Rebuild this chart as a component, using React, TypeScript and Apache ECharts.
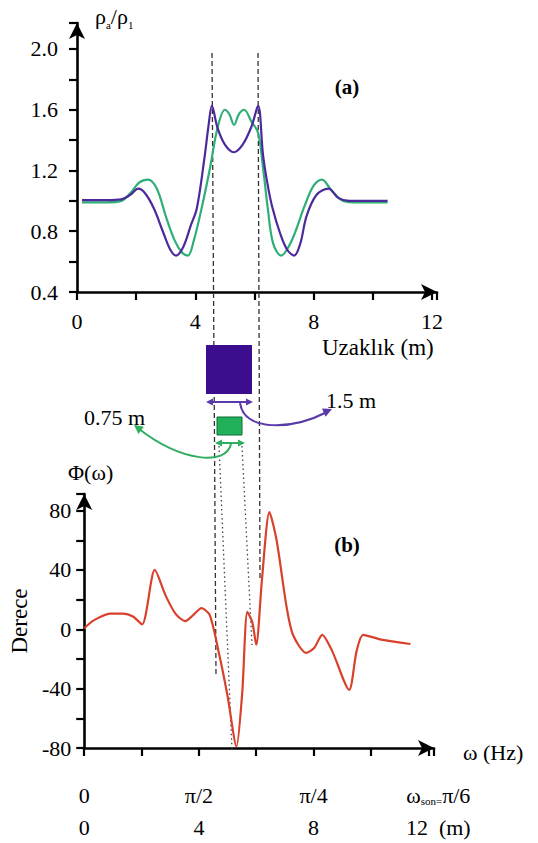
import React, { useEffect, useRef } from 'react';
import * as echarts from 'echarts';

const FONT = 'Liberation Serif, Times New Roman, serif';

// (a) apparent resistivity ratio vs distance (m)
const purpleCurve: [number, number][] = [
  [0.17, 1.005], [1.0, 1.005], [1.5, 1.01], [1.8, 1.04], [2.07, 1.08], [2.3, 1.05],
  [2.6, 0.95], [2.9, 0.8], [3.15, 0.68], [3.35, 0.64], [3.6, 0.7], [3.85, 0.84],
  [4.05, 0.95], [4.3, 1.27], [4.45, 1.5], [4.56, 1.625], [4.75, 1.48], [5.0, 1.37],
  [5.3, 1.32], [5.6, 1.37], [5.9, 1.49], [6.12, 1.625], [6.29, 1.3], [6.45, 1.1],
  [6.6, 0.96], [6.86, 0.79], [7.1, 0.68], [7.34, 0.64], [7.55, 0.72], [7.76, 0.9],
  [8.1, 1.04], [8.5, 1.08], [8.83, 1.02], [9.2, 1.0], [10.5, 1.0],
];
const greenCurve: [number, number][] = [
  [0.17, 0.99], [1.0, 0.99], [1.5, 1.0], [1.8, 1.05], [2.1, 1.12], [2.4, 1.14],
  [2.7, 1.08], [3.0, 0.9], [3.3, 0.74], [3.55, 0.66], [3.75, 0.64], [3.95, 0.74],
  [4.2, 0.94], [4.5, 1.22], [4.75, 1.48], [5.0, 1.6], [5.15, 1.57], [5.31, 1.5],
  [5.47, 1.57], [5.65, 1.6], [5.9, 1.52], [6.12, 1.45], [6.3, 1.2], [6.45, 0.95],
  [6.63, 0.72], [6.9, 0.64], [7.1, 0.68], [7.35, 0.78], [7.7, 0.97], [8.0, 1.1],
  [8.28, 1.14], [8.6, 1.07], [9.0, 1.0], [9.5, 0.99], [10.5, 0.99],
];

// (b) phase (degrees) vs omega / distance
const phaseCurve: [number, number][] = [
  [0, 0.7], [0.33, 6], [0.9, 10.6], [1.36, 10.6], [1.7, 8.6], [2.02, 3.3],
  [2.46, 40], [2.84, 22.7], [3.18, 10.6], [3.52, 5.5], [3.8, 9.5], [4.09, 14.3],
  [4.38, 9.5], [4.72, -18], [5.0, -45], [5.31, -79], [5.51, -43], [5.69, 11.7],
  [5.86, 5], [6.0, -10.4], [6.2, 33.7], [6.46, 79], [6.71, 60], [7.05, 16],
  [7.28, -3.7], [7.74, -15.9], [8.02, -12.6], [8.3, -3.7], [8.65, -14.7],
  [9.24, -40.8], [9.5, -14.7], [9.73, -3.7], [10.36, -7], [11.38, -9.9],
];

const topXTickStep = 2;
const topXLabelValues = [0, 4, 8, 12];
const topYTickStep = 0.2;
const topYLabelValues = [0.4, 0.8, 1.2, 1.6, 2.0];
const bottomXTickStep = 2;
const bottomXLabelValues = [0, 4, 8, 12];
const omegaLabels = ['0', 'π/2', 'π/4', 'π/6'];
const metreLabels = ['0', '4', '8', '12  (m)'];
const bottomYTickStep = 20;
const bottomYLabelValues = [-80, -40, 0, 40, 80];

const PURPLE = '#4b2a9c';
const GREEN = '#2fae78';
const RED = '#d8412c';

const axisLine = {
  show: true,
  onZero: false,
  symbol: ['none', 'arrow'],
  symbolSize: [12, 16],
  lineStyle: { color: '#000', width: 2.6 },
};

const near = (list: number[], v: number) => list.findIndex((l) => Math.abs(l - v) < 1e-6);

export default function App() {
  const ref = useRef<HTMLDivElement>(null);
  useEffect(() => {
    if (!ref.current) return;
    const chart = echarts.init(ref.current, undefined, { renderer: 'svg' });
    const tick = { show: true, length: 8, lineStyle: { color: '#000', width: 2.2 } };
    const option: any = {
      animation: false,
      backgroundColor: '#fff',
      textStyle: { fontFamily: FONT },
      grid: [
        { left: 77, top: 23, width: 360, height: 269 },
        { left: 77, top: 494, width: 357, height: 259 },
      ],
      xAxis: [
        {
          type: 'value', gridIndex: 0, min: 0, max: 12.17, interval: topXTickStep,
          axisLine, axisTick: tick,
          axisLabel: {
            color: '#000', fontFamily: FONT, fontSize: 22, margin: 18, showMaxLabel: true,
            formatter: (v: number) => (near(topXLabelValues, v) >= 0 ? String(Math.round(v)) : ''),
          },
          splitLine: { show: false },
        },
        {
          type: 'value', gridIndex: 1, min: 0, max: 12.2, interval: bottomXTickStep,
          axisLine, axisTick: tick,
          axisLabel: {
            color: '#000', fontFamily: FONT, fontSize: 22, lineHeight: 32, margin: 31,
            formatter: (v: number) => {
              const i = near(bottomXLabelValues, v);
              if (i < 0) return '';
              if (i === bottomXLabelValues.length - 1) {
                return `{wp|ω}{s|son=}{w|${omegaLabels[i]}}\n{wp|${metreLabels[i]}}`;
              }
              return `${omegaLabels[i]}\n${metreLabels[i]}`;
            },
            rich: {
              w: { fontFamily: FONT, fontSize: 22, lineHeight: 32, color: '#000' },
              wp: { fontFamily: FONT, fontSize: 22, lineHeight: 32, color: '#000', padding: [0, 0, 0, 20] },
              s: { fontFamily: FONT, fontSize: 11, color: '#000', verticalAlign: 'bottom', padding: [0, 0, 5, 0] },
            },
          },
          splitLine: { show: false },
        },
      ],
      yAxis: [
        {
          type: 'value', gridIndex: 0, min: 0.4, max: 2.171, interval: topYTickStep,
          axisLine, axisTick: tick,
          axisLabel: {
            color: '#000', fontFamily: FONT, fontSize: 22, margin: 19,
            formatter: (v: number) => (near(topYLabelValues, v) >= 0 ? v.toFixed(1) : ''),
          },
          splitLine: { show: false },
        },
        {
          type: 'value', gridIndex: 1, min: -80, max: 91.2, interval: bottomYTickStep,
          name: 'Derece', nameLocation: 'middle', nameGap: 48, nameRotate: 90,
          nameTextStyle: { fontFamily: FONT, fontSize: 23, color: '#000' },
          axisLine, axisTick: tick,
          axisLabel: {
            color: '#000', fontFamily: FONT, fontSize: 22, margin: 13,
            formatter: (v: number) => (near(bottomYLabelValues, v) >= 0 ? String(Math.round(v)) : ''),
          },
          splitLine: { show: false },
        },
      ],
      series: [
        {
          type: 'line', xAxisIndex: 0, yAxisIndex: 0, data: greenCurve, showSymbol: false,
          smooth: 0.35, lineStyle: { color: GREEN, width: 2.2 }, z: 3,
        },
        {
          type: 'line', xAxisIndex: 0, yAxisIndex: 0, data: purpleCurve, showSymbol: false,
          smooth: 0.35, lineStyle: { color: PURPLE, width: 2.2 }, z: 4,
        },
        {
          type: 'line', xAxisIndex: 1, yAxisIndex: 1, data: phaseCurve, showSymbol: false,
          smooth: 0.25, lineStyle: { color: RED, width: 2.2 }, z: 4,
        },
      ],
      graphic: [
        // dashed guide lines
        { type: 'line', z: 1, shape: { x1: 212, y1: 53, x2: 216, y2: 676 }, style: { stroke: '#333', lineWidth: 1.3, lineDash: [5, 3] } },
        { type: 'line', z: 1, shape: { x1: 258, y1: 53, x2: 260, y2: 578 }, style: { stroke: '#333', lineWidth: 1.3, lineDash: [5, 3] } },
        // dotted guide lines
        { type: 'line', z: 1, shape: { x1: 219, y1: 446, x2: 232, y2: 750 }, style: { stroke: '#444', lineWidth: 1.3, lineDash: [1.5, 3] } },
        { type: 'line', z: 1, shape: { x1: 242, y1: 446, x2: 252, y2: 645 }, style: { stroke: '#444', lineWidth: 1.3, lineDash: [1.5, 3] } },
        // purple block
        { type: 'rect', z: 5, shape: { x: 206, y: 345, width: 46, height: 49 }, style: { fill: '#3c0d8e' } },
        { type: 'line', z: 5, shape: { x1: 210, y1: 402, x2: 249, y2: 402 }, style: { stroke: '#5a3aa8', lineWidth: 2 } },
        { type: 'polygon', z: 5, shape: { points: [[206, 402], [213, 398.5], [213, 405.5]] }, style: { fill: '#5a3aa8' } },
        { type: 'polygon', z: 5, shape: { points: [[253, 402], [246, 398.5], [246, 405.5]] }, style: { fill: '#5a3aa8' } },
        { type: 'bezierCurve', z: 5, shape: { x1: 240, y1: 403, cpx1: 244, cpy1: 432, cpx2: 292, cpy2: 430, x2: 327, y2: 412 }, style: { stroke: '#5a3aa8', lineWidth: 2, fill: 'none' } },
        { type: 'polygon', z: 5, shape: { points: [[332, 409], [325.6, 416.8], [322, 408.6]] }, style: { fill: '#5a3aa8' } },
        // green block
        { type: 'rect', z: 5, shape: { x: 217, y: 417, width: 25, height: 18 }, style: { fill: '#22b05a', stroke: '#0d6f36', lineWidth: 1 } },
        { type: 'line', z: 5, shape: { x1: 219, y1: 443, x2: 241, y2: 443 }, style: { stroke: '#2fae60', lineWidth: 2 } },
        { type: 'polygon', z: 5, shape: { points: [[215, 443], [222, 439.5], [222, 446.5]] }, style: { fill: '#2fae60' } },
        { type: 'polygon', z: 5, shape: { points: [[245, 443], [238, 439.5], [238, 446.5]] }, style: { fill: '#2fae60' } },
        { type: 'bezierCurve', z: 5, shape: { x1: 231, y1: 444, cpx1: 226, cpy1: 466, cpx2: 182, cpy2: 462, x2: 139, y2: 429 }, style: { stroke: '#2fae60', lineWidth: 2, fill: 'none' } },
        { type: 'polygon', z: 5, shape: { points: [[134, 425], [143.9, 426.8], [138.5, 434]] }, style: { fill: '#2fae60' } },
        // texts
        {
          type: 'text', z: 6, x: 95, y: 16,
          style: {
            text: '{r|ρ}{s|a}{r|/ρ}{s|1}', verticalAlign: 'middle',
            rich: {
              r: { fontFamily: FONT, fontSize: 22, fill: '#000' },
              s: { fontFamily: FONT, fontSize: 11, fill: '#000', verticalAlign: 'bottom', padding: [0, 0, -3, 0] },
            },
          },
        },
        { type: 'text', z: 6, x: 347, y: 87, style: { text: '(a)', fontFamily: FONT, fontSize: 21, fontWeight: 'bold', fill: '#000', align: 'center', verticalAlign: 'middle' } },
        { type: 'text', z: 6, x: 322, y: 347, style: { text: 'Uzaklık (m)', fontFamily: FONT, fontSize: 23, fill: '#000', align: 'left', verticalAlign: 'middle' } },
        { type: 'text', z: 6, x: 326, y: 400, style: { text: '1.5 m', fontFamily: FONT, fontSize: 22, fill: '#000', align: 'left', verticalAlign: 'middle' } },
        { type: 'text', z: 6, x: 84, y: 417, style: { text: '0.75 m', fontFamily: FONT, fontSize: 22, fill: '#000', align: 'left', verticalAlign: 'middle' } },
        { type: 'text', z: 6, x: 68, y: 472, style: { text: 'Φ(ω)', fontFamily: FONT, fontSize: 22, fill: '#000', align: 'left', verticalAlign: 'middle' } },
        { type: 'text', z: 6, x: 347, y: 545, style: { text: '(b)', fontFamily: FONT, fontSize: 21, fontWeight: 'bold', fill: '#000', align: 'center', verticalAlign: 'middle' } },
        { type: 'text', z: 6, x: 463, y: 752, style: { text: 'ω (Hz)', fontFamily: FONT, fontSize: 22, fill: '#000', align: 'left', verticalAlign: 'middle' } },
      ],
    };
    chart.setOption(option);
    return () => chart.dispose();
  }, []);
  return <div ref={ref} style={{ position: 'fixed', left: 0, top: 0, width: 538, height: 843, background: '#fff' }} />;
}
